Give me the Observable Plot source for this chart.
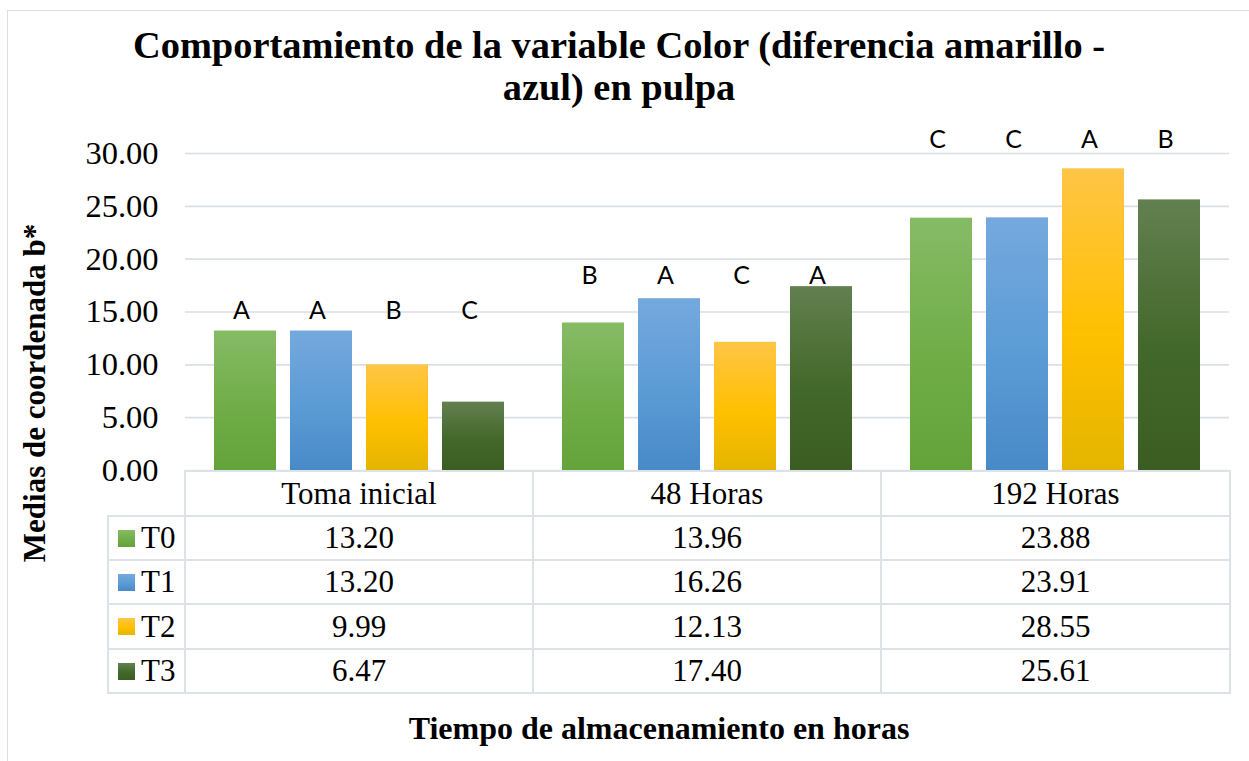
<!DOCTYPE html>
<html><head><meta charset="utf-8">
<script src="https://cdn.jsdelivr.net/npm/d3@7"></script>
<script src="https://cdn.jsdelivr.net/npm/@observablehq/plot@0.6"></script>
<style>
body{margin:0;background:#fff;}
#wrap{position:relative;width:1249px;height:761px;overflow:hidden;background:#fff;font-family:"Liberation Serif","Times New Roman",serif;color:#000;}
#wrap svg{position:absolute;left:0;top:0;}
.abs{position:absolute;}
.border{position:absolute;left:7px;top:10px;width:1300px;height:800px;border:1.5px solid #d9dde4;box-sizing:border-box;}
.title{position:absolute;left:0;width:1238px;text-align:center;font-weight:bold;font-size:38.4px;line-height:42px;white-space:nowrap;}
.cell{position:absolute;box-sizing:border-box;border:2px solid #dde1e8;display:flex;align-items:center;justify-content:center;font-size:31px;white-space:nowrap;}
.sw{display:inline-block;width:17px;height:17px;margin-right:6px;}
</style></head><body><div id="wrap"><div class="border"></div></div>
<script>
const groups = ["Toma inicial", "48 Horas", "192 Horas"];
const series = ["T0", "T1", "T2", "T3"];
const valuesT0 = [13.20, 13.96, 23.88];
const valuesT1 = [13.20, 16.26, 23.91];
const valuesT2 = [9.99, 12.13, 28.55];
const valuesT3 = [6.47, 17.40, 25.61];
const lettersT0 = ["A", "B", "C"];
const lettersT1 = ["A", "A", "C"];
const lettersT2 = ["B", "C", "A"];
const lettersT3 = ["C", "A", "B"];
const letterHeights = [15.1, 18.4, 31.3];
const yTicks = [0, 5, 10, 15, 20, 25, 30];

const seriesValues = [valuesT0, valuesT1, valuesT2, valuesT3];
const seriesLetters = [lettersT0, lettersT1, lettersT2, lettersT3];
const gradients = {
  T0: ["#86bb66", "#70ad47", "#64a23a"],
  T1: ["#74a9dd", "#5b9bd5", "#4889c8"],
  T2: ["#ffc546", "#ffc000", "#e4b500"],
  T3: ["#62804f", "#43682b", "#3b5d22"]
};

const data = [];
groups.forEach((g, i) => series.forEach((s, j) => data.push({
  group: g, series: s, value: seriesValues[j][i], letter: seriesLetters[j][i], ly: letterHeights[i]
})));

const chart = Plot.plot({
  width: 1249, height: 761,
  marginLeft: 184, marginRight: 19, marginTop: 153, marginBottom: 291,
  style: {background: "transparent", fontFamily: "Liberation Serif, serif", color: "#000", overflow: "visible"},
  fx: {domain: groups, padding: 0, axis: null},
  x: {domain: series, paddingInner: 0.19, paddingOuter: 0.38, axis: null},
  y: {domain: [0, 30], axis: null},
  color: {type: "identity"},
  marks: [
    Plot.ruleY(yTicks, {stroke: "#dadee5", strokeWidth: 1.6}),
    Plot.axisY(yTicks, {tickSize: 0, tickPadding: 27, tickFormat: d => d.toFixed(2), fontSize: 32.5, fontFamily: "Liberation Serif", fill: "#000", label: null}),
    Plot.barY(data, {fx: "group", x: "series", y: "value", fill: d => `url(#grad-${d.series})`}),
    Plot.text(data, {fx: "group", x: "series", y: "ly", text: "letter", fontSize: 25, fontFamily: "Lato", fill: "#000", lineAnchor: "middle", dx: -4})
  ]
});

const svg = d3.select(chart);
const defs = svg.insert("defs", ":first-child");
series.forEach(s => {
  const g = defs.append("linearGradient").attr("id", `grad-${s}`).attr("x1", 0).attr("y1", 0).attr("x2", 0).attr("y2", 1);
  g.append("stop").attr("offset", "0%").attr("stop-color", gradients[s][0]);
  g.append("stop").attr("offset", "55%").attr("stop-color", gradients[s][1]);
  g.append("stop").attr("offset", "100%").attr("stop-color", gradients[s][2]);
});

const wrap = document.getElementById("wrap");
wrap.appendChild(chart);

function addDiv(cls, style, html) {
  const d = document.createElement("div");
  d.className = cls;
  Object.assign(d.style, style);
  d.innerHTML = html;
  wrap.appendChild(d);
  return d;
}

addDiv("title", {top: "24px"}, "Comportamiento de la variable Color (diferencia amarillo -");
addDiv("title", {top: "66px"}, "azul) en pulpa");
addDiv("abs", {left: "35px", top: "393px", transform: "translate(-50%,-50%) rotate(-90deg)", fontWeight: "bold", fontSize: "31px", whiteSpace: "nowrap"}, "Medias de coordenada b*");
addDiv("abs", {left: "659px", top: "728px", transform: "translate(-50%,-50%)", fontWeight: "bold", fontSize: "32px", whiteSpace: "nowrap"}, "Tiempo de almacenamiento en horas");

// data table
const colX = [108, 185, 533, 881, 1230];
const rowY = [471, 516, 560, 604, 649, 693];
function cell(x0, x1, y0, y1, html, extra) {
  return addDiv("cell", Object.assign({left: (x0 - 1) + "px", top: (y0 - 1) + "px", width: (x1 - x0 + 2) + "px", height: (y1 - y0 + 2) + "px"}, extra || {}), html);
}
groups.forEach((g, i) => cell(colX[i + 1], colX[i + 2], rowY[0], rowY[1], g));
series.forEach((s, j) => {
  const st = gradients[s];
  cell(colX[0], colX[1], rowY[j + 1], rowY[j + 2],
    `<span class="sw" style="background:linear-gradient(${st[0]},${st[1]} 55%,${st[2]})"></span>${s}`,
    {justifyContent: "flex-start", paddingLeft: "9px"});
  groups.forEach((g, i) => cell(colX[i + 1], colX[i + 2], rowY[j + 1], rowY[j + 2], seriesValues[j][i].toFixed(2)));
});
</script></body></html>
